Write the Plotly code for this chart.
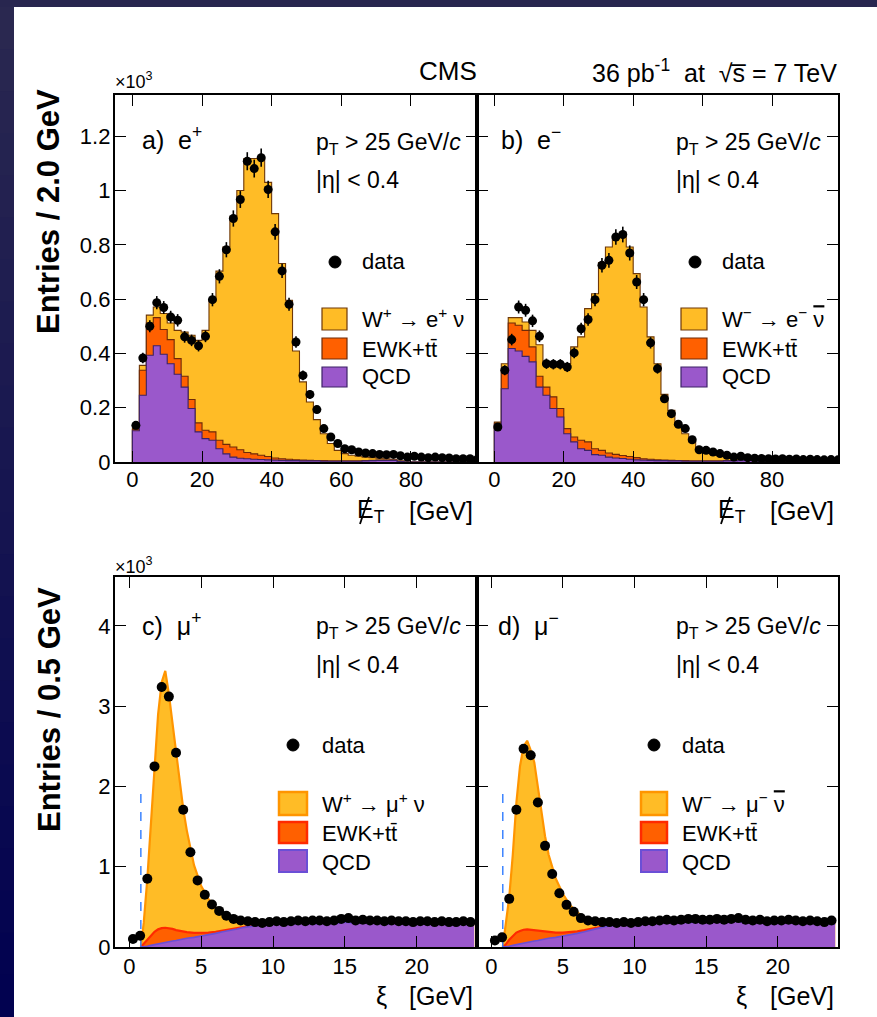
import numpy as np
import plotly.graph_objects as go

W, H = 877, 1017
FONT = "Liberation Sans, Arial, Helvetica, sans-serif"

# ---------------- data: electrons (MET, 2 GeV bins, values in 10^3 entries) ----------------
met_edges = list(range(0, 101, 2))
met_centers = list(range(1, 100, 2))

data_eplus = [0.135, 0.383, 0.500, 0.587, 0.569, 0.534, 0.522, 0.461, 0.448, 0.428,
              0.463, 0.598, 0.684, 0.782, 0.897, 0.967, 1.108, 1.081, 1.121, 1.004,
              0.848, 0.704, 0.581, 0.442, 0.319, 0.249, 0.193, 0.123, 0.092, 0.068,
              0.049, 0.045, 0.037, 0.033, 0.031, 0.028, 0.027, 0.028, 0.023, 0.018,
              0.021, 0.018, 0.016, 0.018, 0.016, 0.015, 0.012, 0.012, 0.012, 0.009]
qcd_eplus = [0.115, 0.246, 0.393, 0.428, 0.397, 0.362, 0.323, 0.276, 0.197, 0.111,
             0.086, 0.080, 0.049, 0.030, 0.018, 0.014, 0.012, 0.010, 0.009, 0.008,
             0.007, 0.006, 0.005, 0.005, 0.004, 0.004, 0.004, 0.003, 0.003, 0.003,
             0.003, 0.003, 0.003, 0.004, 0.005, 0.006, 0.006, 0.006, 0.002, 0.0,
             0.0, 0.0, 0.0, 0.0, 0.0, 0.0, 0.0, 0.0, 0.0, 0.0]
ewk_eplus = [0.005, 0.092, 0.119, 0.104, 0.091, 0.089, 0.058, 0.040, 0.033, 0.033,
             0.031, 0.031, 0.031, 0.035, 0.037, 0.031, 0.023, 0.020, 0.016, 0.012,
             0.008, 0.006, 0.005, 0.003, 0.003, 0.002, 0.001, 0.002, 0.001, 0.001,
             0.001, 0.001, 0.001, 0.001, 0.001, 0.001, 0.001, 0.001, 0.001, 0.0,
             0.0, 0.0, 0.0, 0.0, 0.0, 0.0, 0.0, 0.0, 0.0, 0.0]
w_eplus = [0.005, 0.018, 0.029, 0.039, 0.059, 0.061, 0.104, 0.163, 0.237, 0.304,
           0.368, 0.485, 0.623, 0.727, 0.848, 0.955, 1.083, 1.088, 1.093, 1.010,
           0.900, 0.719, 0.586, 0.401, 0.288, 0.215, 0.151, 0.099, 0.064, 0.039,
           0.027, 0.021, 0.017, 0.013, 0.010, 0.007, 0.005, 0.003, 0.001, 0.0,
           0.0, 0.0, 0.0, 0.0, 0.0, 0.0, 0.0, 0.0, 0.0, 0.0]

data_eminus = [0.129, 0.338, 0.451, 0.571, 0.559, 0.520, 0.463, 0.362, 0.360, 0.360,
               0.350, 0.402, 0.491, 0.525, 0.598, 0.725, 0.743, 0.829, 0.838, 0.770,
               0.663, 0.598, 0.439, 0.344, 0.233, 0.178, 0.139, 0.123, 0.082, 0.045,
               0.043, 0.037, 0.031, 0.025, 0.018, 0.021, 0.016, 0.014, 0.013, 0.012,
               0.011, 0.012, 0.010, 0.011, 0.009, 0.010, 0.009, 0.008, 0.009, 0.008]
qcd_eminus = [0.138, 0.270, 0.418, 0.409, 0.389, 0.369, 0.276, 0.246, 0.197, 0.166,
              0.104, 0.074, 0.049, 0.043, 0.027, 0.025, 0.018, 0.015, 0.013, 0.010,
              0.008, 0.007, 0.006, 0.005, 0.005, 0.004, 0.004, 0.003, 0.003, 0.003,
              0.003, 0.003, 0.003, 0.004, 0.004, 0.005, 0.006, 0.006, 0.002, 0.0,
              0.0, 0.0, 0.0, 0.0, 0.0, 0.0, 0.0, 0.0, 0.0, 0.0]
ewk_eminus = [0.005, 0.060, 0.094, 0.095, 0.096, 0.055, 0.040, 0.030, 0.043, 0.031,
              0.019, 0.018, 0.031, 0.031, 0.022, 0.018, 0.015, 0.013, 0.011, 0.010,
              0.008, 0.005, 0.004, 0.003, 0.002, 0.002, 0.001, 0.002, 0.001, 0.001,
              0.001, 0.001, 0.001, 0.001, 0.001, 0.001, 0.001, 0.001, 0.001, 0.0,
              0.0, 0.0, 0.0, 0.0, 0.0, 0.0, 0.0, 0.0, 0.0, 0.0]
w_eminus = [0.004, 0.032, 0.020, 0.028, 0.031, 0.061, 0.116, 0.086, 0.122, 0.165,
            0.239, 0.332, 0.381, 0.491, 0.571, 0.692, 0.759, 0.801, 0.820, 0.772,
            0.678, 0.559, 0.451, 0.354, 0.242, 0.184, 0.130, 0.099, 0.070, 0.045,
            0.033, 0.026, 0.021, 0.015, 0.011, 0.007, 0.004, 0.002, 0.001, 0.0,
            0.0, 0.0, 0.0, 0.0, 0.0, 0.0, 0.0, 0.0, 0.0, 0.0]

# ---------------- data: muons (xi, 0.5 GeV bins, values in 10^3 entries) ----------------
xi_centers = [0.25, 0.75, 1.25, 1.75, 2.25, 2.75, 3.25, 3.75, 4.25, 4.75, 5.25, 5.75,
              6.25, 6.75, 7.25, 7.75, 8.25, 8.75, 9.25, 9.75, 10.25, 10.75, 11.25, 11.75,
              12.25, 12.75, 13.25, 13.75, 14.25, 14.75, 15.25, 15.75, 16.25, 16.75, 17.25, 17.75,
              18.25, 18.75, 19.25, 19.75, 20.25, 20.75, 21.25, 21.75, 22.25, 22.75, 23.25, 23.75]
data_muplus = [0.10, 0.14, 0.85, 2.25, 3.24, 3.12, 2.42, 1.71, 1.18, 0.83, 0.65, 0.53,
               0.45, 0.39, 0.35, 0.33, 0.32, 0.31, 0.30, 0.31, 0.32, 0.31, 0.32, 0.33,
               0.32, 0.33, 0.33, 0.32, 0.33, 0.35, 0.36, 0.33, 0.34, 0.33, 0.33, 0.32,
               0.33, 0.32, 0.32, 0.31, 0.32, 0.32, 0.31, 0.32, 0.31, 0.31, 0.32, 0.31]
data_muminus = [0.08, 0.12, 0.60, 1.71, 2.47, 2.39, 1.80, 1.26, 0.91, 0.67, 0.525, 0.44,
                0.36, 0.33, 0.32, 0.31, 0.31, 0.30, 0.31, 0.30, 0.31, 0.32, 0.32, 0.33,
                0.34, 0.33, 0.34, 0.35, 0.35, 0.34, 0.34, 0.35, 0.34, 0.35, 0.36, 0.34,
                0.33, 0.34, 0.32, 0.33, 0.33, 0.34, 0.33, 0.32, 0.33, 0.32, 0.31, 0.33]

xi_model = [0.8, 1.0, 1.25, 1.5, 1.75, 2.0, 2.25, 2.5, 2.75, 3.0, 3.25, 3.5, 3.75, 4.0,
            4.5, 5.0, 5.5, 6.0, 6.5, 7.0, 7.5, 8.0, 8.5, 9.0, 9.5, 10.0, 10.5, 11.0, 11.5,
            12.0, 12.5, 13.0, 13.5, 14.0, 14.5, 15.0, 15.5, 16.0, 16.5, 17.0, 17.5, 18.0,
            18.5, 19.0, 19.5, 20.0, 20.5, 21.0, 21.5, 22.0, 22.5, 23.0, 23.5, 24.0]
qcd_muplus = [0.0, 0.003, 0.01, 0.02, 0.03, 0.04, 0.05, 0.055, 0.065, 0.075, 0.08, 0.09,
              0.10, 0.11, 0.12, 0.135, 0.15, 0.17, 0.19, 0.205, 0.225, 0.245, 0.26, 0.278,
              0.285, 0.29, 0.29, 0.295, 0.29, 0.30, 0.295, 0.29, 0.30, 0.295, 0.30, 0.31,
              0.30, 0.295, 0.30, 0.30, 0.295, 0.29, 0.30, 0.295, 0.29, 0.295, 0.29, 0.29,
              0.295, 0.29, 0.285, 0.29, 0.29, 0.285]
ewk_muplus = [0.0, 0.037, 0.09, 0.13, 0.16, 0.18, 0.185, 0.185, 0.17, 0.15, 0.13, 0.11,
              0.09, 0.075, 0.055, 0.04, 0.03, 0.02, 0.015, 0.015, 0.01, 0.005, 0.005, 0.002,
              0, 0, 0, 0, 0, 0, 0, 0, 0, 0, 0, 0, 0, 0, 0, 0, 0, 0, 0, 0, 0, 0, 0, 0,
              0, 0, 0, 0, 0, 0]
w_muplus = [0.0, 0.26, 0.75, 1.40, 2.11, 2.68, 3.065, 3.20, 2.915, 2.575, 2.21, 1.85,
            1.53, 1.265, 0.845, 0.585, 0.42, 0.30, 0.215, 0.155, 0.11, 0.07, 0.04, 0.015,
            0, 0, 0, 0, 0, 0, 0, 0, 0, 0, 0, 0, 0, 0, 0, 0, 0, 0, 0, 0, 0, 0, 0, 0,
            0, 0, 0, 0, 0, 0]
qcd_muminus = [0.0, 0.003, 0.01, 0.02, 0.03, 0.04, 0.05, 0.055, 0.065, 0.075, 0.08, 0.09,
               0.10, 0.11, 0.12, 0.135, 0.15, 0.17, 0.19, 0.215, 0.235, 0.255, 0.27, 0.278,
               0.28, 0.285, 0.29, 0.29, 0.295, 0.30, 0.30, 0.305, 0.31, 0.305, 0.31, 0.31,
               0.315, 0.31, 0.315, 0.32, 0.31, 0.315, 0.31, 0.305, 0.30, 0.305, 0.30, 0.30,
               0.295, 0.30, 0.295, 0.29, 0.29, 0.285]
ewk_muminus = [0.0, 0.027, 0.08, 0.12, 0.15, 0.16, 0.165, 0.165, 0.15, 0.135, 0.12, 0.105,
               0.09, 0.075, 0.06, 0.045, 0.035, 0.025, 0.02, 0.015, 0.01, 0.005, 0.005, 0.002,
               0, 0, 0, 0, 0, 0, 0, 0, 0, 0, 0, 0, 0, 0, 0, 0, 0, 0, 0, 0, 0, 0, 0, 0,
               0, 0, 0, 0, 0, 0]
w_muminus = [0.0, 0.22, 0.53, 1.01, 1.62, 2.05, 2.285, 2.35, 2.235, 2.09, 1.78, 1.485,
             1.19, 0.965, 0.67, 0.48, 0.335, 0.235, 0.16, 0.105, 0.065, 0.035, 0.01, 0.005,
             0, 0, 0, 0, 0, 0, 0, 0, 0, 0, 0, 0, 0, 0, 0, 0, 0, 0, 0, 0, 0, 0, 0, 0,
             0, 0, 0, 0, 0, 0]

xi_cut = 0.8
xi_cut_line_top = 1.94

# ticks
met_ticks = [0, 20, 40, 60, 80]
xi_ticks = [0, 5, 10, 15, 20]
e_ytick_vals = [0, 0.2, 0.4, 0.6, 0.8, 1.0, 1.2]
e_ytick_text = ["0", "0.2", "0.4", "0.6", "0.8", "1", "1.2"]
mu_ytick_vals = [0, 1, 2, 3, 4]
mu_ytick_text = ["0", "1", "2", "3", "4"]

SCALE = 1000.0  # values are in units of 10^3 entries

# colours
C_W, C_EWK, C_QCD = "#ffbc26", "#ff6000", "#9a58cb"
L_W_E, L_EWK_E, L_QCD_E = "#6e3808", "#6e2a08", "#3c2266"
L_W_M, L_EWK_M, L_QCD_M = "#ff9500", "#ff2a00", "#6a4fd6"


def PX(x):
    return x / W


def PY(y):
    return 1 - y / H


fig = go.Figure()

xdom_l = [PX(115), PX(477)]
xdom_r = [PX(477), PX(838)]
ydom_t = [PY(462), PY(95)]
ydom_b = [PY(947), PY(577)]


def step_xy(edges, vals):
    xs = [edges[0]] + list(edges) + [edges[-1]]
    ys = [0.0] + list(vals) + [vals[-1], 0.0]
    return xs, ys


def add_met_panel(xa, ya, data, qcd, ewk, wsig):
    qcd = np.array(qcd) * SCALE
    ewk = np.array(ewk) * SCALE
    wsig = np.array(wsig) * SCALE
    layers = [(qcd + ewk + wsig, C_W, L_W_E), (qcd + ewk, C_EWK, L_EWK_E), (qcd, C_QCD, L_QCD_E)]
    for vals, fc, lc in layers:
        xs, ys = step_xy(met_edges, vals)
        fig.add_trace(go.Scatter(x=xs, y=ys, mode="lines", line=dict(shape="hv", color=lc, width=1.1),
                                 fill="tozeroy", fillcolor=fc, xaxis=xa, yaxis=ya, showlegend=False,
                                 hoverinfo="skip"))
    fig.add_trace(go.Scatter(x=met_centers, y=np.array(data) * SCALE, mode="markers",
                             marker=dict(color="black", size=9),
                             error_y=dict(type="sqrt", color="black", thickness=1.6, width=0),
                             xaxis=xa, yaxis=ya, showlegend=False))


def add_xi_panel(xa, ya, data, qcd, ewk, wsig):
    qcd = np.array(qcd) * SCALE
    ewk = np.array(ewk) * SCALE
    wsig = np.array(wsig) * SCALE
    layers = [(qcd + ewk + wsig, C_W, L_W_M, 2.2), (qcd + ewk, C_EWK, L_EWK_M, 2.2), (qcd, C_QCD, L_QCD_M, 1.6)]
    for vals, fc, lc, lw in layers:
        fig.add_trace(go.Scatter(x=xi_model, y=vals, mode="lines", line=dict(color=lc, width=lw),
                                 fill="tozeroy", fillcolor=fc, xaxis=xa, yaxis=ya, showlegend=False,
                                 hoverinfo="skip"))
    fig.add_trace(go.Scatter(x=[xi_cut, xi_cut], y=[0, xi_cut_line_top * SCALE], mode="lines",
                             line=dict(color="#2f7bff", width=1.4, dash="dash"),
                             xaxis=xa, yaxis=ya, showlegend=False, hoverinfo="skip"))
    fig.add_trace(go.Scatter(x=xi_centers, y=np.array(data) * SCALE, mode="markers",
                             marker=dict(color="black", size=10),
                             error_y=dict(type="sqrt", color="black", thickness=1.6, width=0),
                             xaxis=xa, yaxis=ya, showlegend=False))


add_met_panel("x", "y", data_eplus, qcd_eplus, ewk_eplus, w_eplus)
add_met_panel("x2", "y2", data_eminus, qcd_eminus, ewk_eminus, w_eminus)
add_xi_panel("x3", "y3", data_muplus, qcd_muplus, ewk_muplus, w_muplus)
add_xi_panel("x4", "y4", data_muminus, qcd_muminus, ewk_muminus, w_muminus)

tickfont = dict(family=FONT, size=22, color="black")
common = dict(showline=True, linecolor="black", linewidth=2.4, mirror="ticks", ticks="inside",
              ticklen=11, tickwidth=1.3, tickcolor="black", showgrid=False, zeroline=False,
              tickfont=tickfont, fixedrange=True, automargin=False)

fig.update_layout(
    template="none",
    xaxis=dict(domain=xdom_l, range=[-5, 99], tickvals=met_ticks, anchor="y", ticklabelstandoff=-4, **common),
    yaxis=dict(domain=ydom_t, range=[0, 1.352 * SCALE], tickvals=[v * SCALE for v in e_ytick_vals],
               ticktext=e_ytick_text, anchor="x", ticklabelstandoff=-2, **common),
    xaxis2=dict(domain=xdom_r, range=[-5, 99], tickvals=met_ticks, anchor="y2", ticklabelstandoff=-4, **common),
    yaxis2=dict(domain=ydom_t, range=[0, 1.352 * SCALE], tickvals=[v * SCALE for v in e_ytick_vals],
                showticklabels=False, anchor="x2", **common),
    xaxis3=dict(domain=xdom_l, range=[-1, 24.2], tickvals=xi_ticks, anchor="y3", ticklabelstandoff=-2, **common),
    yaxis3=dict(domain=ydom_b, range=[0, 4.61 * SCALE], tickvals=[v * SCALE for v in mu_ytick_vals],
                ticktext=mu_ytick_text, anchor="x3", ticklabelstandoff=-2, **common),
    xaxis4=dict(domain=xdom_r, range=[-1, 24.2], tickvals=xi_ticks, anchor="y4", ticklabelstandoff=-2, **common),
    yaxis4=dict(domain=ydom_b, range=[0, 4.61 * SCALE], tickvals=[v * SCALE for v in mu_ytick_vals],
                showticklabels=False, anchor="x4", **common),
)

shapes = []
annotations = []

# slide background strips
shapes.append(dict(type="rect", xref="paper", yref="paper", x0=0, x1=1, y0=PY(7), y1=1,
                   fillcolor="#28264f", line=dict(width=0), layer="below"))
n_band = 24
c_top = np.array([42, 40, 80])
c_bot = np.array([2, 2, 80])
for i in range(n_band):
    f = i / (n_band - 1)
    c = (c_top * (1 - f) + c_bot * f).astype(int)
    y0 = 7 + (H - 7) * i / n_band
    y1 = 7 + (H - 7) * (i + 1) / n_band
    shapes.append(dict(type="rect", xref="paper", yref="paper", x0=0, x1=PX(14), y0=PY(y1 + 1), y1=PY(y0),
                       fillcolor="rgb(%d,%d,%d)" % tuple(c), line=dict(width=0), layer="below"))


def ann(text, x, y, size=20, xanchor="left", yanchor="middle", **kw):
    annotations.append(dict(text=text, x=PX(x), y=PY(y), xref="paper", yref="paper", showarrow=False,
                            xanchor=xanchor, yanchor=yanchor, font=dict(family=FONT, size=size, color="black"),
                            **kw))


# header texts
ann("×10<sup>3</sup>", 113, 80, size=18)
ann("×10<sup>3</sup>", 113, 565, size=18)
ann("CMS", 448, 71, size=26, xanchor="center")
ann("36 pb<sup>-1</sup>  at  √s̅ = 7 TeV", 839, 71, size=25, xanchor="right")

# y titles
ann("<b>Entries / 2.0 GeV</b>", 49, 212, size=31, xanchor="center", textangle=-90)
ann("<b>Entries / 0.5 GeV</b>", 49, 710, size=31, xanchor="center", textangle=-90)

# x titles (MET symbol: E with a drawn slash)
for ex, gx in [(355, 475), (716, 836)]:
    ann("E<sub>T</sub>", ex, 511, size=25)
    ann("[GeV]", gx, 511, size=25, xanchor="right")
    shapes.append(dict(type="line", xref="paper", yref="paper", x0=PX(ex + 5), y0=PY(524),
                       x1=PX(ex + 14), y1=PY(497), line=dict(color="black", width=1.8)))
for xx, gx in [(374, 475), (734, 836)]:
    ann("ξ", xx, 996, size=25)
    ann("[GeV]", gx, 996, size=25, xanchor="right")

# panel labels and cuts
panels = [
    (140, 138, "a)  e<sup>+</sup>", 314, 143, 180),
    (499, 138, "b)  e<sup>−</sup>", 674, 143, 180),
    (140, 624, "c)  μ<sup>+</sup>", 314, 627, 665),
    (496, 624, "d)  μ<sup>−</sup>", 674, 627, 665),
]
for lx, ly, lt, cx, cy1, cy2 in panels:
    ann(lt, lx, ly, size=25)
    ann("p<sub>T</sub> > 25 GeV/<i>c</i>", cx, cy1, size=23)
    ann("|η| < 0.4", cx, cy2, size=23)

NUBAR = "<span style='text-decoration:overline'>ν</span>"

# legends
legends = [
    (335, 262, 322, 347, 360, [(308, 330, 318), (338, 359, 349), (367, 387, 377)],
     "W<sup>+</sup> → e<sup>+</sup> ν", False),
    (695, 262, 681, 707, 720, [(308, 330, 318), (338, 359, 349), (367, 387, 377)],
     "W<sup>−</sup> → e<sup>−</sup> " + NUBAR, False),
    (293, 745, 279, 307, 320, [(792, 815, 803), (822, 843, 833), (850, 872, 862)],
     "W<sup>+</sup> → μ<sup>+</sup> ν", True),
    (654, 745, 641, 667, 680, [(792, 815, 803), (822, 843, 833), (850, 872, 862)],
     "W<sup>−</sup> → μ<sup>−</sup> " + NUBAR, True),
]
for mx, my, bx0, bx1, lx, rows, wlab, mu in legends:
    shapes.append(dict(type="circle", xref="paper", yref="paper", x0=PX(mx - 6), x1=PX(mx + 6),
                       y0=PY(my + 6), y1=PY(my - 6), fillcolor="black", line=dict(color="black", width=1)))
    ann("data", lx, my, size=22)
    if mu:
        styles = [(C_W, L_W_M, 2.5), (C_EWK, L_EWK_M, 2.5), (C_QCD, L_QCD_M, 2)]
    else:
        styles = [(C_W, L_W_E, 1.2), (C_EWK, L_EWK_E, 1.2), (C_QCD, L_QCD_E, 1.2)]
    labels = [wlab, "EWK+tt̄", "QCD"]
    for (yt, yb, yl), (fc, lc, lw), lab in zip(rows, styles, labels):
        shapes.append(dict(type="rect", xref="paper", yref="paper", x0=PX(bx0), x1=PX(bx1),
                           y0=PY(yb), y1=PY(yt), fillcolor=fc, line=dict(color=lc, width=lw)))
        ann(lab, lx, yl, size=22)

fig.update_layout(
    width=W, height=H, margin=dict(l=0, r=0, t=0, b=0, pad=0, autoexpand=False),
    paper_bgcolor="white", plot_bgcolor="rgba(0,0,0,0)",
    shapes=shapes, annotations=annotations, showlegend=False,
    font=dict(family=FONT, color="black"),
)

post = ("document.documentElement.style.margin='0';document.body.style.margin='0';"
        "document.body.style.overflow='hidden';document.documentElement.style.overflow='hidden';"
        "var gd=document.getElementById('{plot_id}');gd.style.position='fixed';"
        "gd.style.top='0px';gd.style.left='0px';")
fig.write_html("out.html", config={"displayModeBar": False}, post_script=post)
